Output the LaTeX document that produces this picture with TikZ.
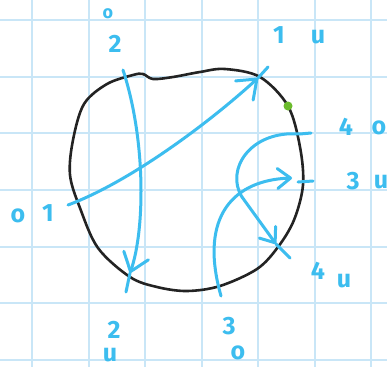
\documentclass[tikz,border=0pt]{standalone}
\usepackage{fontspec}
\setmainfont{Fira Sans}
\usepackage{tikz}
\usetikzlibrary{arrows.meta}
\definecolor{ink}{HTML}{232323}
\definecolor{penblue}{HTML}{3CBDEF}
\definecolor{gridblue}{HTML}{C9E6F7}
\definecolor{dotgreen}{HTML}{6BBB2C}
\tikzset{
  gridline/.style={draw=gridblue,line width=1.5pt},
  blob/.style={draw=ink,line width=2.6pt},
  chord/.style={draw=penblue,line width=3pt,line cap=round,line join=round},
  bigtip/.style={-{Straight Barb[length=17pt,width=26pt,round]}},
  smalltip/.style={-{Straight Barb[length=13pt,width=20pt,round]}},
  lbl/.style={text=penblue,inner sep=0pt,font=\fontsize{25}{25}\selectfont\bfseries},
  small/.style={text=penblue,inner sep=0pt,font=\fontsize{18}{18}\selectfont\bfseries},
  dot/.style={circle,fill=dotgreen,inner sep=0pt,minimum size=9pt}}

\begin{document}
\begin{tikzpicture}[x=1pt,y=-1pt]
  \useasboundingbox[fill=white] (0,0) rectangle (387,367);
  % paper grid
  \foreach \gx in {32,89,145,202,258,315,371}
    \draw[gridline] (\gx,0) -- (\gx,367);
  \foreach \gy in {20,77,133,190,247,303,360}
    \draw[gridline] (0,\gy) -- (387,\gy);

  % the region
  \draw[blob] plot[smooth cycle,tension=0.55] coordinates {
    (143,74) (153,79) (173,77) (200,72) (225,69) (260,77) (288,106)
    (300,147) (303,185) (294,220) (278,247) (257,269) (220,286) (187,291)
    (157,287) (130,277) (98,248) (80,208) (70,175) (73,140) (84,104)
    (107,84) (133,75)};
  \node[dot] (mark) at (288,106) {};

  % chord ends
  \coordinate (s1) at (68,205);
  \coordinate (t1) at (258,78);
  \coordinate (e1) at (268,67);
  \coordinate (s2) at (123,70);
  \coordinate (t2) at (130,273);
  \coordinate (e2) at (126,292);
  \coordinate (s3) at (221,296);
  \coordinate (t3) at (292,178);
  \coordinate (k3a) at (298,182);
  \coordinate (k3b) at (313,181);
  \coordinate (s4) at (311,133);
  \coordinate (b4) at (242,197);
  \coordinate (t4) at (276,244);
  \coordinate (e4) at (290,258);

  % chords
  \draw[chord,bigtip] (s1) .. controls (130,182) and (210,122) .. (t1);
  \draw[chord] (t1) -- (e1);
  \draw[chord,bigtip] (s2) .. controls (146,140) and (145,230) .. (t2);
  \draw[chord] (t2) -- (e2);
  \draw[chord,smalltip] (s3) .. controls (198,215) and (235,180) .. (t3);
  \draw[chord] (k3a) -- (k3b);
  \draw[chord] (s4) -- (300,134) .. controls (250,130) and (225,170) .. (b4);
  \draw[chord,smalltip] (b4) -- (t4);
  \draw[chord] (t4) -- (e4);

  % labels
  \node[small] (o2) at (108,14) {o};
  \node[lbl] (n2) at (115,44) {2};
  \node[lbl] (n1u) at (279,35) {1};
  \node[lbl] (u1) at (318,37) {u};
  \node[lbl] (o1) at (18,216) {o};
  \node[lbl] (n1o) at (48,213) {1};
  \node[lbl] (n4o) at (346,127) {4};
  \node[lbl] (o4) at (379,128) {o};
  \node[lbl] (n3u) at (353,181) {3};
  \node[lbl] (u3) at (381,182) {u};
  \node[lbl] (n4u) at (318,271) {4};
  \node[lbl] (u4) at (344,281) {u};
  \node[lbl] (n2u) at (114,330) {2};
  \node[lbl] (u2) at (110,355) {u};
  \node[lbl] (n3o) at (229,326) {3};
  \node[lbl] (o3) at (238,353) {o};
\end{tikzpicture}
\end{document}
